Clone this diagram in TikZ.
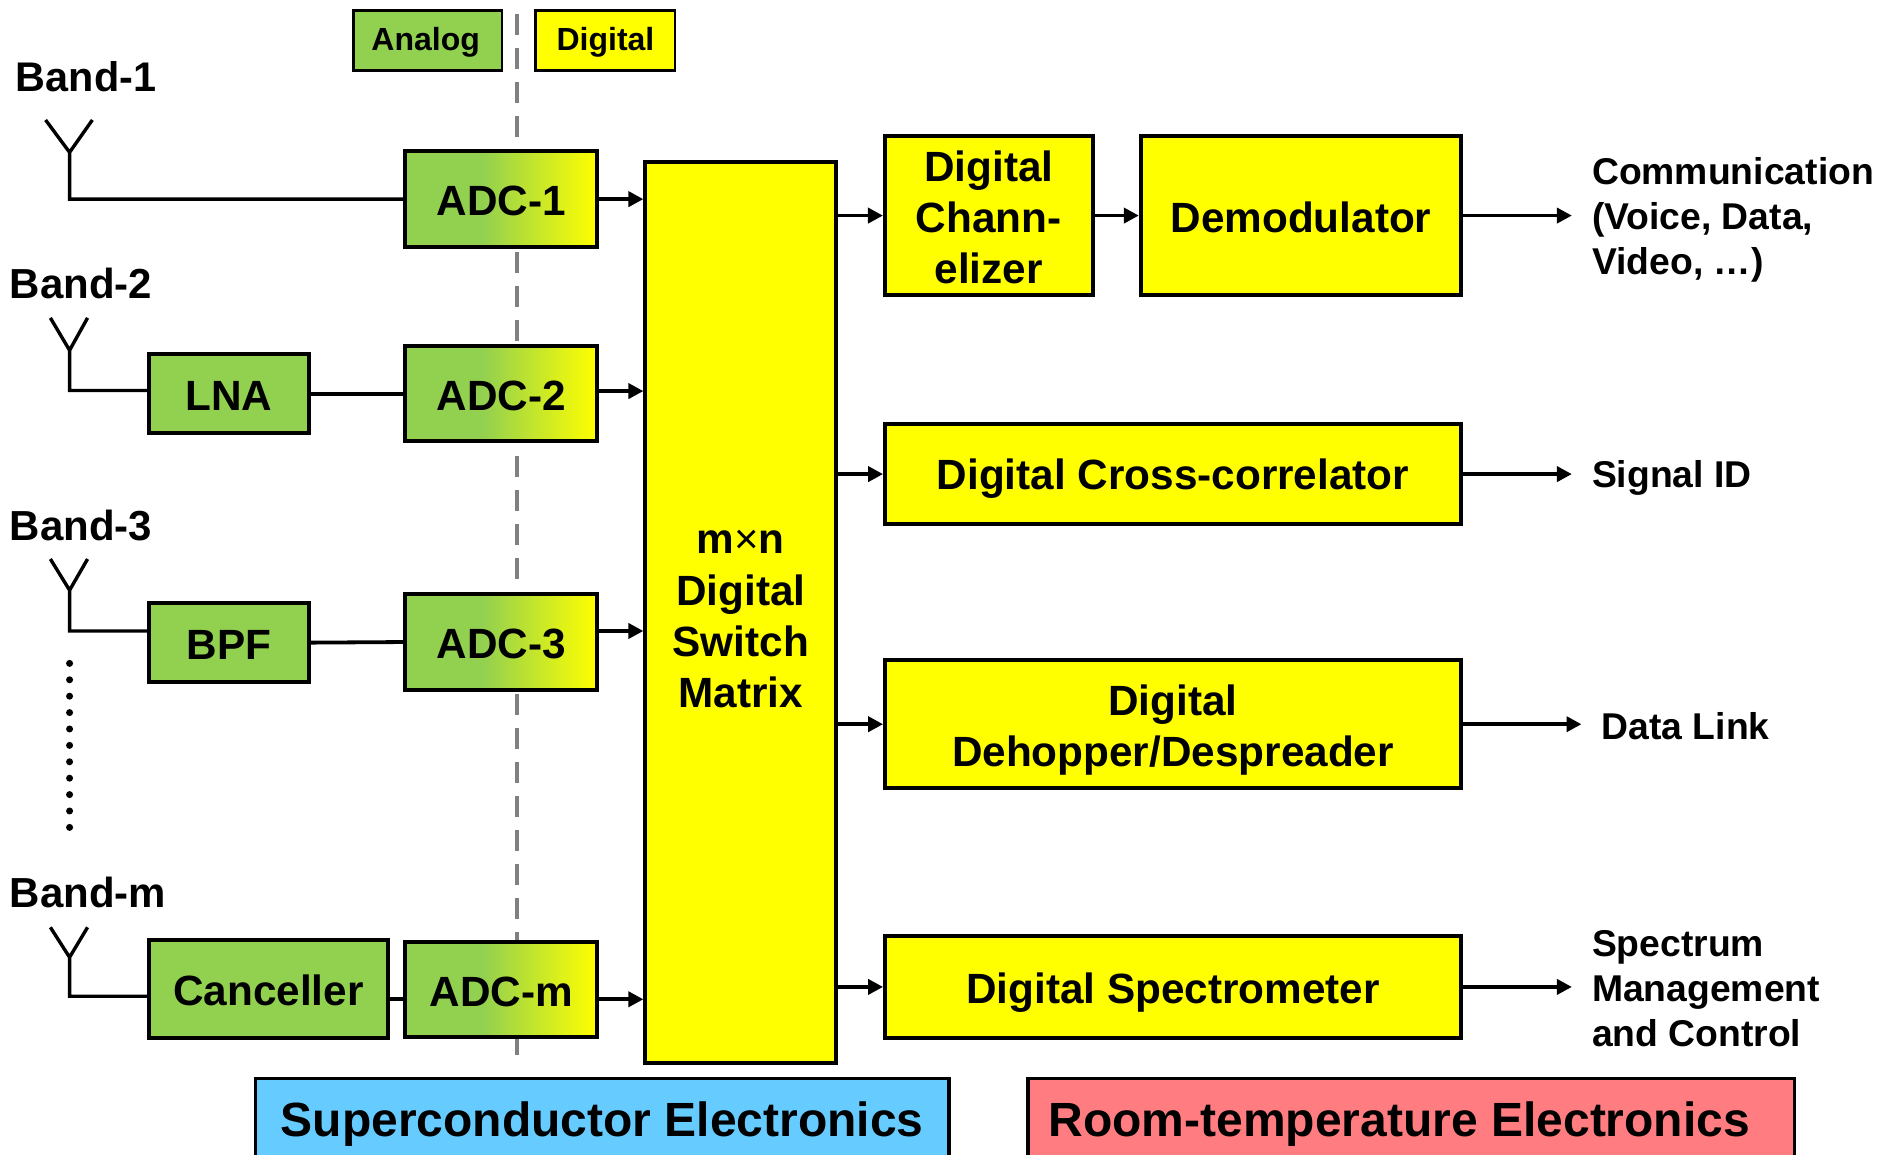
\documentclass[tikz,border=0pt]{standalone}
\usepackage{fontspec}
\setmainfont{Liberation Sans}
\usetikzlibrary{arrows.meta}
\definecolor{agreen}{HTML}{92D050}
\definecolor{dyellow}{HTML}{FFFF00}
\definecolor{sblue}{HTML}{66CCFF}
\definecolor{rred}{HTML}{FF7C80}
\definecolor{dashgray}{HTML}{808080}
\pgfdeclarehorizontalshading{adcgrad}{100bp}{color(0bp)=(agreen); color(45bp)=(agreen); color(75bp)=(dyellow); color(100bp)=(dyellow)}
\def\uu{1.1996pt}
\newcommand{\fs}[2]{\fontsize{#1}{#2}\selectfont\bfseries}
\newcommand{\topstrut}[1]{\rule{0pt}{#1pt}}
\tikzset{
  x=1.1996pt,y=-1.1996pt,
  textdown/.style={execute at begin node={\rule{0pt}{#1pt}}},
  box/.style={draw=black,line width=4pt,inner sep=0pt,align=center,font=\fs{42.3}{51.2},textdown=34},
  ana/.style={box,fill=agreen},
  dig/.style={box,fill=dyellow},
  adc/.style={box,shade,shading=adcgrad,minimum width=160*\uu,minimum height=79.5*\uu},
  legendbox/.style={draw=black,line width=2.8pt,inner sep=0pt,font=\fs{32}{38},minimum height=50*\uu,textdown=28},
  band/.style={inner sep=0pt,anchor=west,font=\fs{42}{48}},
  outl/.style={inner sep=0pt,anchor=west,align=left,font=\fs{37.3}{45},textdown=30},
  wire/.style={line width=3.8pt,draw=black},
  arr/.style={wire,-{Triangle[length=15pt,width=15pt]}},
  outarr/.style={arr,shorten >=20pt},
  aerial/.style={line width=3.4pt,draw=black,line join=miter},
  banner/.style={draw=black,line width=3.4pt,inner sep=0pt,minimum height=68*\uu,font=\fs{48}{54},textdown=44.6}
}
\begin{document}
\begin{tikzpicture}
\useasboundingbox (0,0) rectangle (1568,962);
\clip (0,0) rectangle (1568,962);
\fill[white] (0,0) rectangle (1568,962);
% dashed divider
\coordinate (divtop) at (431,12);
\coordinate (divbot) at (431,886);
\draw[dashgray,line width=3.8pt,dash pattern=on 21pt off 13pt] (divtop) -- (divbot);
% legend
\node[legendbox,fill=agreen,minimum width=124*\uu] (analog) at (356.5,33.5) {Analog\hspace*{4pt}};
\node[legendbox,fill=dyellow,minimum width=116*\uu] (digital) at (504.7,33.5) {Digital};
% band labels
\node[band,font=\fs{41.4}{48}] (b1) at (13,64) {Band-1};
\node[band] (b2) at (8,236) {Band-2};
\node[band] (b3) at (8,438) {Band-3};
\node[band] (bm) at (8,744) {Band-m};
% blocks
\node[adc] (adc1) at (417.8,166) {ADC-1};
\node[adc] (adc2) at (417.8,328.2) {ADC-2};
\node[adc] (adc3) at (417.8,535.2) {ADC-3};
\node[adc] (adcm) at (417.8,824.7) {ADC-m};
\node[ana,minimum width=133*\uu,minimum height=65.5*\uu] (lna) at (190.7,328.2) {LNA};
\node[ana,minimum width=133*\uu,minimum height=65.5*\uu] (bpf) at (190.7,535.7) {BPF};
\node[ana,minimum width=199*\uu,minimum height=81.5*\uu] (canc) at (223.7,824.2) {Canceller};
\node[dig,minimum width=159*\uu,minimum height=751*\uu,textdown=0] (matrix) at (617.5,510.5) {\topstrut{36.8}m{\fontsize{42}{51}\selectfont\mdseries ×}n\\Digital\\Switch\\Matrix};
\node[dig,minimum width=173*\uu,minimum height=132.5*\uu,textdown=0] (chan) at (824.2,179.7) {\topstrut{34}Digital\\Chann-\\elizer};
\node[dig,minimum width=267*\uu,minimum height=132.5*\uu] (demod) at (1084.5,179.7) {Demodulator};
\node[dig,minimum width=480*\uu,minimum height=83.5*\uu,textdown=40.6] (cross) at (977.8,395.2) {Digital Cross-correlator};
\node[dig,minimum width=480*\uu,minimum height=106.5*\uu,textdown=0] (dehop) at (977.8,603.7) {\topstrut{43}Digital\\Dehopper/Despreader};
\node[dig,minimum width=480*\uu,minimum height=84.5*\uu,textdown=43] (spec) at (977.8,822.7) {Digital Spectrometer};
% banners
\node[banner,fill=sblue,minimum width=578*\uu] (sce) at (502,933) {Superconductor Electronics};
\node[banner,fill=rred,minimum width=639*\uu] (rte) at (1176.5,933) {Room-temperature Electronics\hspace*{24pt}};
% output labels
\node[outl] (comm) at (1327,183.5) {Communication\\(Voice, Data,\\Video, …)};
\node[outl] (sig) at (1327,397.5) {Signal ID};
\node[outl] (dl) at (1335,604) {Data Link};
\node[outl] (mgmt) at (1327,824) {Spectrum\\Management\\and Control};
% antennas
\coordinate (a1l) at (38,100); \coordinate (a1t) at (58,127); \coordinate (a1r) at (77,100); \coordinate (a1b) at (58,166);
\coordinate (a2l) at (42,265); \coordinate (a2t) at (58,292); \coordinate (a2r) at (73,265); \coordinate (a2b) at (58,325.5);
\coordinate (a3l) at (42,466); \coordinate (a3t) at (58,492); \coordinate (a3r) at (73,466); \coordinate (a3b) at (58,526);
\coordinate (aml) at (42,773); \coordinate (amt) at (58,798); \coordinate (amr) at (73,773); \coordinate (amb) at (58,830.5);
\draw[aerial] (a1l) -- (a1t) -- (a1r) (a1t) -- (a1b) -- (a1b -| adc1.west);
\draw[aerial] (a2l) -- (a2t) -- (a2r) (a2t) -- (a2b) -- (a2b -| lna.west);
\draw[aerial] (a3l) -- (a3t) -- (a3r) (a3t) -- (a3b) -- (a3b -| bpf.west);
\draw[aerial] (aml) -- (amt) -- (amr) (amt) -- (amb) -- (amb -| canc.west);
% dotted continuation
\coordinate (dots1) at (58,553); \coordinate (dots2) at (58,690);
\draw[line width=7pt,line cap=round,dash pattern=on 0pt off 16.4pt] (dots1) -- (dots2);
% connectors
\draw[wire] (lna.east) -- (adc2.west);
\draw[wire] (bpf.east) -- (adc3.west);
\coordinate (cm) at (330,833);
\draw[wire] (cm -| canc.east) -- (cm -| adcm.west);
\coordinate (r1) at (520,166); \coordinate (r2) at (520,326); \coordinate (r3) at (520,526); \coordinate (r4) at (520,833);
\draw[arr] (r1 -| adc1.east) -- (r1 -| matrix.west);
\draw[arr] (r2 -| adc2.east) -- (r2 -| matrix.west);
\draw[arr] (r3 -| adc3.east) -- (r3 -| matrix.west);
\draw[arr] (r4 -| adcm.east) -- (r4 -| matrix.west);
\draw[arr] (matrix.east |- chan.west) -- (chan.west);
\draw[arr] (matrix.east |- cross.west) -- (cross.west);
\draw[arr] (matrix.east |- dehop.west) -- (dehop.west);
\draw[arr] (matrix.east |- spec.west) -- (spec.west);
\draw[arr] (chan.east) -- (demod.west);
\draw[outarr] (demod.east) -- (demod.east -| comm.west);
\draw[outarr] (cross.east) -- (cross.east -| sig.west);
\draw[outarr] (dehop.east) -- (dehop.east -| dl.west);
\draw[outarr] (spec.east) -- (spec.east -| mgmt.west);
\end{tikzpicture}
\end{document}
